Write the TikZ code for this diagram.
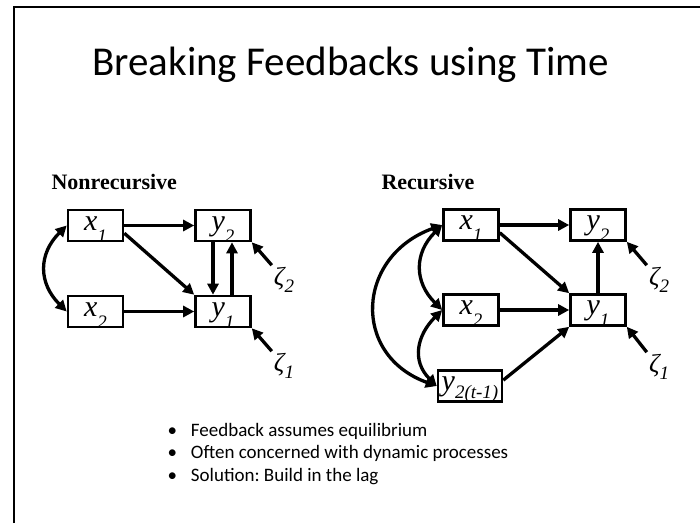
\documentclass[tikz,border=0pt]{standalone}
\usepackage{fontspec}
\setmainfont{Carlito}
\newfontfamily\tnr{Liberation Serif}
\usetikzlibrary{arrows.meta}
\newcommand{\vlab}[3][12pt]{#2\raisebox{-#1}{\fontsize{19}{19}\selectfont #3}}
\frenchspacing

\begin{document}
\begin{tikzpicture}[x=1pt, y=1pt, var/.style={draw, line width=2.6pt, minimum width=55pt, minimum height=31pt, inner sep=0pt, text height=13pt, text depth=4pt, font=\tnr\itshape\fontsize{30}{30}\selectfont}, arr/.style={-{Triangle[length=11pt,width=11pt]}, line width=3.3pt}, cov/.style={{Triangle[length=11pt,width=11pt]}-{Triangle[length=11pt,width=11pt]}, line width=3.3pt, looseness=1.2}, dist/.style={inner sep=2pt, font=\tnr\itshape\fontsize{26}{26}\selectfont}, heading/.style={anchor=base west, font=\tnr\bfseries\fontsize{22}{22}\selectfont}]

\useasboundingbox (0,0) rectangle (700,-523);
\draw[line width=2.2pt] (14,-523) -- (14,-7) -- (700,-7);
\node[anchor=base, font=\fontsize{41}{41}\selectfont] (title) at (350.5,-75) {Breaking Feedbacks using Time};

\node[heading] (hnon) at (48,-189) {Nonrecursive};
\node[heading] (hrec) at (378,-189) {Recursive};

\node[var] (nx1) at (95.5,-225.5) {\vlab{x}{1}};
\node[var] (ny2) at (223,-225.5) {\vlab{y}{2}};
\node[var] (nx2) at (95.5,-311.5) {\vlab{x}{2}};
\node[var] (ny1) at (223,-311.5) {\vlab{y}{1}};
\node[dist] (nz2) at (284,-280) {\vlab[7pt]{ζ}{2}};
\node[dist] (nz1) at (284,-366) {\vlab[7pt]{ζ}{1}};
\draw[arr] (nx1) -- (ny2);
\draw[arr] (nx1.-15) -- (ny1.north west);
\draw[arr] (nx2) -- (ny1);
\draw[arr] ([xshift=-10pt]ny2.south) -- ([xshift=-10pt]ny1.north);
\draw[arr] ([xshift=9pt]ny1.north) -- ([xshift=9pt]ny2.south);
\draw[arr] (nz2.north west) -- (ny2.south east);
\draw[arr] (nz1.north west) -- (ny1.south east);
\draw[cov] (nx1.west) to[out=225, in=135] (nx2.west);

\node[var] (rx1) at (471,-225) {\vlab{x}{1}};
\node[var] (ry2) at (598,-225) {\vlab{y}{2}};
\node[var] (rx2) at (471,-310) {\vlab{x}{2}};
\node[var] (ry1) at (598,-310) {\vlab{y}{1}};
\node[var, minimum width=64pt] (rlag) at (470,-386) {\vlab[8pt]{y}{2(t-1)}};
\node[dist] (rz2) at (659,-280) {\vlab[7pt]{ζ}{2}};
\node[dist] (rz1) at (659,-367) {\vlab[7pt]{ζ}{1}};
\draw[arr] (rx1) -- (ry2);
\draw[arr] (rx1.-15) -- (ry1.north west);
\draw[arr] (rx2) -- (ry1);
\draw[arr] (ry1) -- (ry2);
\draw[arr] (rlag.10) -- (ry1.south west);
\draw[arr] (rz2.north west) -- (ry2.south east);
\draw[arr] (rz1.north west) -- (ry1.south east);
\draw[cov] (rx1.west) to[out=225, in=135] (rx2.west);
\draw[cov] (rx2.west) to[out=225, in=135] (rlag.west);
\draw[cov, looseness=1.45] (rx1.west) to[out=200, in=160] (rlag.west);

\node[anchor=base west, font=\fontsize{19}{22.5}\selectfont] (notes) at (164,-436) {\begin{tabular}[t]{@{}l@{\hspace{14pt}}l@{}}
• & Feedback assumes equilibrium\\
• & Often concerned with dynamic processes\\
• & Solution: Build in the lag
\end{tabular}};
\end{tikzpicture}
\end{document}
